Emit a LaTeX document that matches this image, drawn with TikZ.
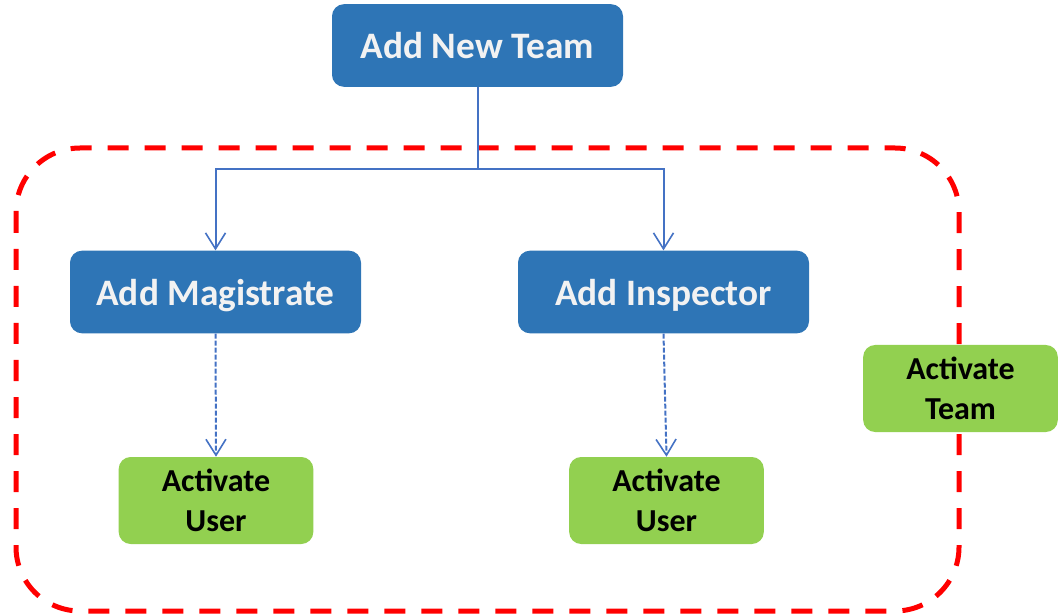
\documentclass[tikz,border=0pt]{standalone}
\usepackage{fontspec}
\setmainfont{Carlito}
\usetikzlibrary{arrows.meta}
\definecolor{boxblue}{HTML}{2E75B6}
\definecolor{lineblue}{HTML}{4472C4}
\definecolor{boxgreen}{HTML}{92D050}
\definecolor{framered}{HTML}{FF0000}
\definecolor{boxtext}{HTML}{F2F2F2}
\begin{document}
\begin{tikzpicture}[x=0.75pt,y=-0.75pt,
  bluebox/.style={fill=boxblue, rounded corners=9pt, text=boxtext, inner sep=0pt,
    minimum width=218.25pt, minimum height=62pt, text depth=0pt,
    font=\fontsize{28}{32}\selectfont\bfseries},
  greenbox/.style={fill=boxgreen, rounded corners=9pt, text=black, inner sep=0pt,
    minimum width=146pt, minimum height=65.25pt, align=center,
    font=\fontsize{24}{30.5}\selectfont\bfseries},
  conn/.style={draw=lineblue, line width=1.5pt,
    -{Straight Barb[length=12pt,width=15pt,line width=1.2pt]}},
  dconn/.style={conn, dash pattern=on 3.75pt off 1.5pt},
  frame/.style={draw=framered, line width=3.75pt, rounded corners=48pt,
    dash pattern=on 15.75pt off 12pt}]
\useasboundingbox (0,0) rectangle (1063,616);
\draw[frame] (16,148) rectangle (959,611);
\node[bluebox] (team) at (477.5,45.5) {Add New Team};
\node[bluebox] (mag) at (215.5,292) {Add Magistrate};
\node[bluebox] (insp) at (663.5,292) {Add Inspector};
\node[greenbox] (user1) at (216,500.5) {Activate\\User};
\node[greenbox] (user2) at (666.5,500.5) {Activate\\User};
\node[greenbox] (act) at (960.5,388.5) {Activate\\Team};
\coordinate (split) at (477.5,169);
\draw[conn] (team.south) -- (split) -| (mag.north);
\draw[conn] (split) -| (insp.north);
\draw[dconn] (mag.south) -- (user1.north);
\draw[dconn] (insp.south) -- (user2.north);
\end{tikzpicture}
\end{document}
